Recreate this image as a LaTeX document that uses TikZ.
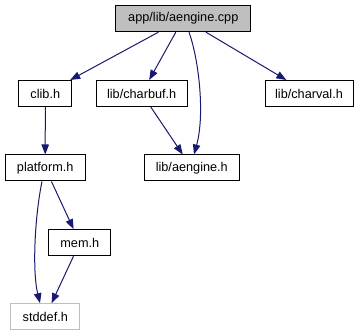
\documentclass[tikz,border=0pt]{standalone}
\usepackage{fontspec}
\setmainfont{Liberation Sans}
\usetikzlibrary{arrows.meta}
\definecolor{edgeblue}{HTML}{191970}
\definecolor{extgray}{HTML}{BFBFBF}
\begin{document}
\begin{tikzpicture}[x=1pt,y=-1pt,
  file/.style={draw=black,line width=1pt,fill=white,inner sep=0pt,
    minimum height=26pt,font=\fontsize{12.7}{14}\selectfont},
  ext/.style={file,draw=extgray},
  cur/.style={file,fill=extgray},
  dep/.style={draw=edgeblue,line width=1pt,
    -{Triangle[length=10pt,width=7.5pt,fill=edgeblue]}}]
\useasboundingbox (0,0) rectangle (362,336);
\fill[white] (0,0) rectangle (362,336);

\node[cur,minimum width=135pt] (cpp) at (183.3,18.7) {app/lib/aengine.cpp};
\node[file,minimum width=53pt] (clib) at (45.3,93.5) {clib.h};
\node[file,minimum width=91pt] (charbuf) at (141.7,93.5) {lib/charbuf.h};
\node[file,minimum width=88pt] (charval) at (309,93.5) {lib/charval.h};
\node[file,minimum width=80pt] (platform) at (45.2,168) {platform.h};
\node[file,minimum width=95pt] (aengine) at (191.8,168) {lib/aengine.h};
\node[file,minimum width=62pt] (mem) at (79.8,242.7) {mem.h};
\node[ext,minimum width=69pt] (stddef) at (45.3,316.7) {stddef.h};

\draw[dep] (cpp) -- (clib);
\draw[dep] (cpp) -- (charbuf);
\draw[dep] ([xshift=5.7pt]cpp.south) .. controls (199,60) and (205,115) .. ([xshift=2.2pt]aengine.north);
\draw[dep] (cpp) -- (charval);
\draw[dep] (clib) -- (platform);
\draw[dep] (charbuf) -- (aengine);
\draw[dep] ([xshift=-3.2pt]platform.south) .. controls (35,215) and (32,270) .. ([xshift=-5.3pt]stddef.north);
\draw[dep] (platform) -- (mem);
\draw[dep] (mem) -- (stddef);
\end{tikzpicture}
\end{document}
